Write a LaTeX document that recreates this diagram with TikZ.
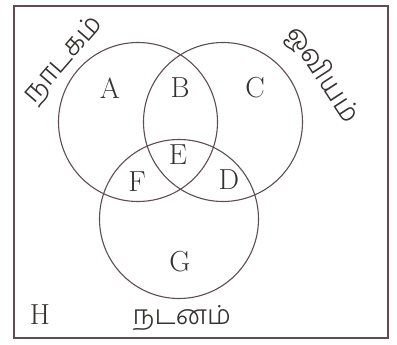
\documentclass[tikz,border=0pt]{standalone}
\usepackage{fontspec}
\newfontfamily\tamilfont[Script=Tamil]{Hind Madurai Light}
\definecolor{ink}{RGB}{95,75,80}
\definecolor{txt}{RGB}{55,50,50}
\tikzset{
  setcircle/.style={circle, draw=ink, line width=1.1pt, minimum size=159pt, inner sep=0pt},
  lbl/.style={text=txt, font=\fontsize{29}{30}\selectfont, inner sep=0pt},
  tlbl/.style={text=txt, font=\tamilfont\fontsize{28}{30}\selectfont, inner sep=0pt}
}
\begin{document}
\begin{tikzpicture}[x=1pt,y=-1pt]
\useasboundingbox (0,0) rectangle (397,345);
\draw[draw=ink, line width=1.1pt] (14,6) rectangle (388,338);
\node[setcircle] (drama) at (138,122) {};
\node[setcircle] (paint) at (223,122) {};
\node[setcircle] (dance) at (179,219) {};
\node[lbl] (a) at (110,88) {A};
\node[lbl] (b) at (180,88) {B};
\node[lbl] (c) at (255,88) {C};
\node[lbl] (e) at (178,155) {E};
\node[lbl] (f) at (137,182) {F};
\node[lbl] (d) at (229,180) {D};
\node[lbl] (g) at (180,262) {G};
\node[lbl] (h) at (40,315) {H};
\node[tlbl, rotate=49] (tdrama) at (64,60) {நாடகம்};
\node[tlbl, rotate=-57] (tpaint) at (322,75) {ஓவியம்};
\node[tlbl, font=\tamilfont\fontsize{27}{29}\selectfont] (tdance) at (182,318) {நடனம்};
\end{tikzpicture}
\end{document}
